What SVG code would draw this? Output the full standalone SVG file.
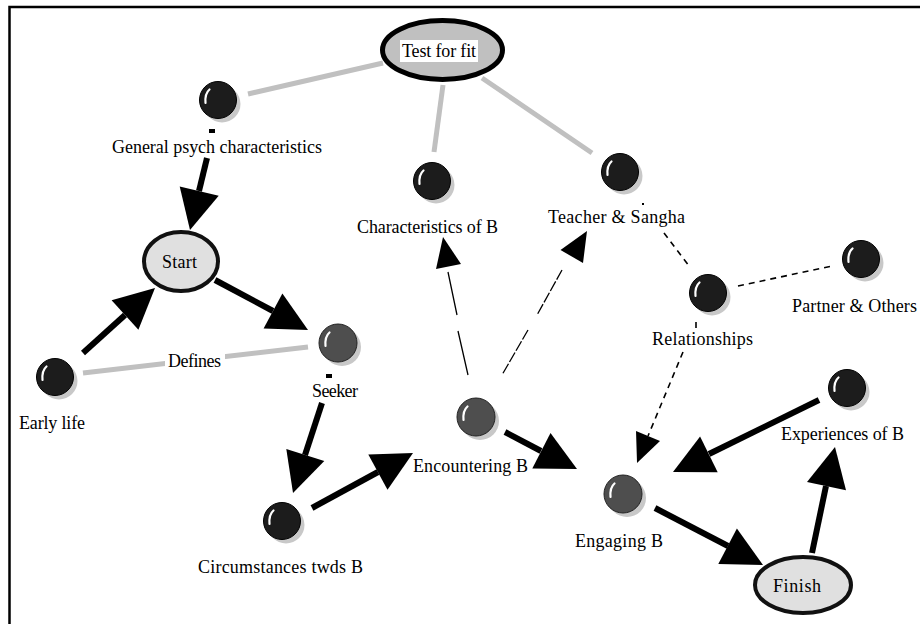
<svg xmlns="http://www.w3.org/2000/svg" width="920" height="624" viewBox="0 0 920 624">
<style>
text{font-family:"Liberation Serif","Times New Roman",serif;font-size:18px;fill:#000}
.thick{stroke:#000;stroke-width:6;fill:none}
.gray{stroke:#c0c0c0;stroke-width:5;fill:none}
.thin{stroke:#000;stroke-width:1.3;fill:none}
.fine{stroke:#000;stroke-width:1.3;fill:none;stroke-dasharray:11 2}
.dash{stroke:#000;stroke-width:1.6;fill:none;stroke-dasharray:6 5}
.head{fill:#000}
.term{stroke:#111;stroke-width:4}
</style>
<defs>
<g id="ballDark">
<circle cx="4" cy="4" r="18.5" fill="#c8c8c8"/>
<circle r="18.5" fill="#1c1c1c" stroke="#000" stroke-width="1"/>
<path d="M-12.5,3 C-13,-3 -11.5,-8 -8.5,-10.5" stroke="#fff" stroke-width="2.2" fill="none" stroke-linecap="round"/>
</g>
<g id="ballGray">
<circle cx="4" cy="4" r="19" fill="#c8c8c8"/>
<circle r="19" fill="#4e4e4e" stroke="#222" stroke-width="1"/>
<path d="M-12.5,3 C-13,-3 -11.5,-8 -8.5,-10.5" stroke="#fff" stroke-width="2.2" fill="none" stroke-linecap="round"/>
</g>
</defs>
<rect width="920" height="624" fill="#fff"/>
<path d="M9.5,624 V7 H920" stroke="#000" stroke-width="2.5" fill="none"/>

<g id="connectors">
<path class="gray" d="M383,63 L248,94"/>
<path class="gray" d="M443,85 L434,152"/>
<path class="gray" d="M482,78 L592,153"/>
<path class="gray" d="M83,373 L308,347"/>

<rect x="209" y="129" width="6" height="4" fill="#000"/>
<path class="thick" d="M207,158 L199,191"/>
<polygon class="head" points="190,230 218.7,195.7 179.7,186.5"/>
<path class="thick" d="M215,280 L273,311"/>
<polygon class="head" points="308,330 263.6,328.6 282.4,293.4"/>
<path class="thick" d="M83,353 L125,315"/>
<polygon class="head" points="155,288 138.4,329.8 111.6,300.2"/>
<rect x="326" y="374" width="6" height="4" fill="#000"/>
<path class="thick" d="M322,403 L305,455"/>
<polygon class="head" points="293,493 324.3,461.1 286.3,448.9"/>
<path class="thick" d="M312,508 L378,472"/>
<polygon class="head" points="413,453 387.5,489.7 368.3,454.5"/>
<path class="thick" d="M505,432 L541,451"/>
<polygon class="head" points="577,469 532.3,468.5 550.5,432.9"/>
<path class="thick" d="M819,400 L709,454"/>
<polygon class="head" points="673,472 717.7,472.2 700.1,436.4"/>
<path class="thick" d="M655,508 L728,546"/>
<polygon class="head" points="763,565 718.3,564 736.9,528.6"/>
<path class="thick" d="M812,553 L826,486"/>
<polygon class="head" points="835,447 846,490.3 807,481.9"/>

<path class="thin" d="M448,272 L457,315 M458,331 L468,375"/>
<polygon class="head" points="443,237 461,264 436,269"/>
<path class="fine" d="M562,270 L537,315 M528,330 L502,375"/>
<polygon class="head" points="587,231 583,263 560.5,250"/>

<rect x="642" y="203" width="2" height="2" fill="#000"/>
<path class="dash" d="M664,233 L689,266"/>
<path class="dash" d="M738,286 L832,266"/>
<path class="dash" d="M696,322 L696,329 M683,352 L648,436"/>
<polygon class="head" points="637,463 660,441 636,431"/>
</g>

<g id="test-for-fit">
<ellipse cx="442.5" cy="50" rx="60" ry="29.5" fill="#c0c0c0" stroke="#000" stroke-width="5"/>
<rect x="400" y="40" width="78" height="22" fill="#fff"/>
<text x="402" y="57" textLength="74">Test for fit</text>
</g>
<g id="general-psych">
<use href="#ballDark" x="218" y="100"/>
<text x="112" y="153" textLength="210">General psych characteristics</text>
</g>
<g id="characteristics-b">
<use href="#ballDark" x="432" y="181"/>
<text x="357" y="233" textLength="141">Characteristics of B</text>
</g>
<g id="teacher-sangha">
<use href="#ballDark" x="620" y="172"/>
<text x="548" y="223" textLength="137">Teacher &amp; Sangha</text>
</g>
<g id="partner-others">
<use href="#ballDark" x="861" y="259"/>
<text x="792" y="312" textLength="125">Partner &amp; Others</text>
</g>
<g id="relationships">
<use href="#ballDark" x="708" y="293"/>
<text x="652" y="345" textLength="101">Relationships</text>
</g>
<g id="start">
<ellipse class="term" cx="181" cy="261.5" rx="37" ry="29.5" fill="#e0e0e0"/>
<text x="162" y="268" textLength="35">Start</text>
</g>
<g id="defines-label">
<rect x="165" y="352" width="60" height="19" fill="#fff"/>
<text x="168" y="367" textLength="53">Defines</text>
</g>
<g id="seeker">
<use href="#ballGray" x="338" y="343"/>
<text x="312" y="397" textLength="46">Seeker</text>
</g>
<g id="early-life">
<use href="#ballDark" x="55" y="377"/>
<text x="19" y="429" textLength="66">Early life</text>
</g>
<g id="encountering-b">
<use href="#ballGray" x="476" y="417"/>
<text x="413" y="472" textLength="115">Encountering B</text>
</g>
<g id="circumstances">
<use href="#ballDark" x="282" y="521"/>
<text x="198" y="573" textLength="165">Circumstances twds B</text>
</g>
<g id="engaging-b">
<use href="#ballGray" x="623" y="494"/>
<text x="575" y="547" textLength="88">Engaging B</text>
</g>
<g id="experiences-b">
<use href="#ballDark" x="847" y="388"/>
<text x="781" y="440" textLength="123">Experiences of B</text>
</g>
<g id="finish">
<ellipse class="term" cx="803" cy="585" rx="48" ry="28" fill="#e0e0e0"/>
<text x="773" y="592" textLength="48">Finish</text>
</g>
</svg>
